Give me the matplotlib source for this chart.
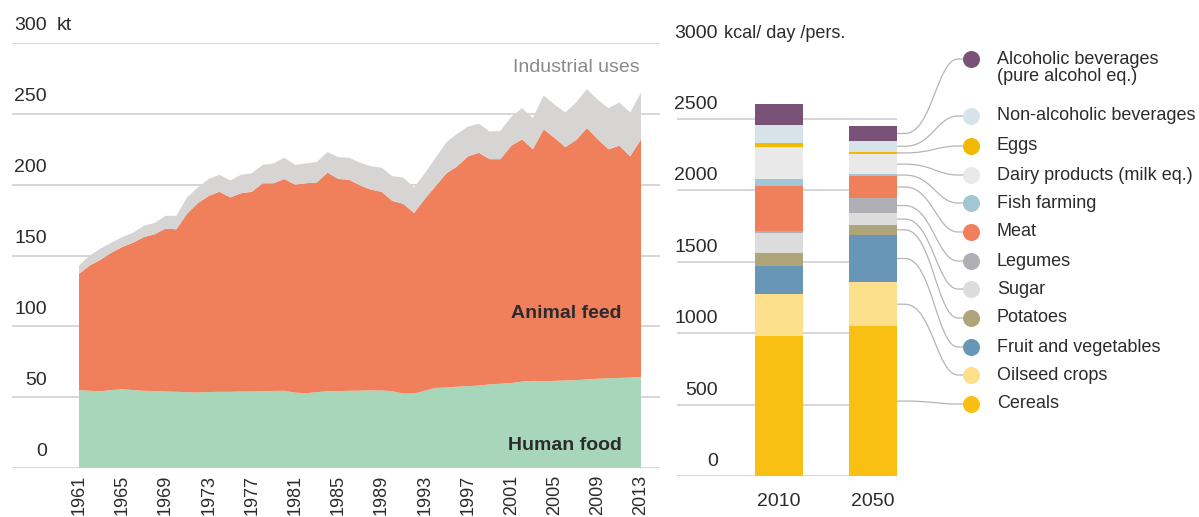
import matplotlib
matplotlib.use("Agg")
import matplotlib.pyplot as plt
from matplotlib.path import Path
from matplotlib.patches import PathPatch
from matplotlib.transforms import blended_transform_factory
import numpy as np

plt.rcParams['font.family'] = ['Liberation Sans', 'DejaVu Sans']
TXT = '#2b2b2b'

# ---- left chart data (kt) ----
years = list(range(1961, 2014))
human_food = [55, 54.5, 54.2, 55, 55.6, 55, 54.5, 54.3, 54, 53.8,
              53.5, 53.3, 53.6, 53.8, 53.8, 54, 54, 54.2, 54.4, 54.5,
              53.2, 52.8, 53.5, 54.2, 54.3, 54.5, 54.6, 54.8, 54.7, 54.2,
              52.5, 52.6, 54.5, 56.5, 56.8, 57.4, 57.8, 58.2, 59, 59.5,
              60, 61, 61.5, 61.3, 61.5, 61.8, 62, 62.5, 63, 63.3,
              63.6, 63.8, 64.3]
animal_feed = [82, 88.5, 92.8, 97, 100.4, 104, 108.5, 110.7, 115, 114.7,
               126, 133.7, 138.4, 141.2, 137.2, 140, 141, 146.8, 146.6, 149.5,
               146.8, 148.2, 148, 154.3, 149.7, 149, 144.9, 141.7, 140.3, 134.3,
               134, 127.4, 135.5, 142.5, 151.2, 155.6, 162.2, 164.3, 159, 158.5,
               167.5, 171, 163.5, 177.7, 171.5, 164.7, 169.5, 177.5, 169, 161.7,
               163.9, 156.2, 167.7]
industrial = [6, 7, 8, 7, 7, 7, 8, 8, 9, 9.5,
              11.5, 11, 12, 12, 12, 13, 13, 13, 14, 15,
              14, 14, 14.5, 14.5, 15.5, 15.5, 16, 16.5, 17, 17.5,
              18.5, 18, 18, 20, 22, 23, 21, 20.5, 19.5, 20,
              20.5, 22, 22, 24, 23.5, 24.5, 26.5, 27.5, 28, 29,
              30.5, 31, 33]
left_ticks = [0, 50, 100, 150, 200, 250, 300]

# ---- right chart data (kcal / day / person) ----
bar_labels = ['2010', '2050']
categories = ['Cereals', 'Oilseed crops', 'Fruit and vegetables', 'Potatoes',
              'Sugar', 'Legumes', 'Meat', 'Fish farming',
              'Dairy products (milk eq.)', 'Eggs', 'Non-alcoholic beverages',
              'Alcoholic beverages\n(pure alcohol eq.)']
kcal_2010 = [977, 300, 193, 93, 139, 10, 319, 46, 228, 28, 123, 149]
kcal_2050 = [1049, 306, 334, 67, 84, 105, 155, 12, 140, 18, 75, 104]
cat_colors = ['#f9bf12', '#fde08c', '#6896b6', '#aea57a', '#dcdcdc', '#b0b0b4',
              '#f0805c', '#a3c6d4', '#e8e9e8', '#f3b800', '#d6e4ea', '#7a5277']
right_ticks = [0, 500, 1000, 1500, 2000, 2500, 3000]

W, H = 1199, 517
fig = plt.figure(figsize=(W / 100, H / 100), dpi=100)

def box(l, r, top, bot):
    return [l / W, 1 - bot / H, (r - l) / W, (bot - top) / H]

# ================= left: stacked area =================
ax = fig.add_axes(box(12, 660, 43, 468))
ppy = (641 - 79) / 52.0
ax.set_xlim(1961 - (79 - 12) / ppy, 2013 + (660 - 641) / ppy)
ax.set_ylim(0, 300)
for v in left_ticks:
    ax.axhline(v, color='#d0d0d0', lw=1.2, zorder=0)
ax.stackplot(years, human_food, animal_feed, industrial,
             colors=['#a8d6bb', '#f0805c', '#d6d5d4'], lw=0, zorder=2)
for s in ax.spines.values():
    s.set_visible(False)
ax.set_yticks([])
ax.set_xticks(years[::4])
ax.set_xticklabels([str(y) for y in years[::4]], rotation=90, fontsize=13, color=TXT)
ax.tick_params(axis='x', length=0, pad=5)

trl = blended_transform_factory(ax.transAxes, ax.transData)
for v in left_ticks:
    ax.text(0.054, v + 6, str(v), transform=trl, ha='right', va='bottom',
            fontsize=14, color=TXT)
ax.text(0.069, 306, 'kt', transform=trl, ha='left', va='bottom', fontsize=14, color=TXT)

ax.text(2012.9, 283, 'Industrial uses', ha='right', va='center', fontsize=14,
        color='#8a8a8a', zorder=3)
ax.text(2011.2, 109, 'Animal feed', ha='right', va='center', fontsize=14,
        color=TXT, fontweight='bold', zorder=3)
ax.text(2011.2, 16, 'Human food', ha='right', va='center', fontsize=14,
        color=TXT, fontweight='bold', zorder=3)

# ================= right: stacked bars =================
ax2 = fig.add_axes(box(677, 897, 476 - 3000 * 0.1429, 476))
x = np.arange(len(bar_labels))
bw = 48 / 94
ax2.set_xlim(-(779 - 677) / 94, 1 + (897 - 873) / 94)
ax2.set_ylim(0, 3000)
for v in right_ticks[:-1]:
    ax2.axhline(v, color='#d0d0d0', lw=1.2, zorder=0)

data = np.array([kcal_2010, kcal_2050])
bottoms = np.zeros(2)
mids_2050 = []
for i, c in enumerate(categories):
    ax2.bar(x, data[:, i], bw, bottom=bottoms, color=cat_colors[i], lw=0, zorder=2)
    mids_2050.append(bottoms[1] + data[1, i] / 2)
    bottoms += data[:, i]

for s in ax2.spines.values():
    s.set_visible(False)
ax2.set_yticks([])
ax2.set_xticks(x)
ax2.set_xticklabels(bar_labels, fontsize=14, color=TXT)
ax2.tick_params(axis='x', length=0, pad=12)

tr2 = blended_transform_factory(ax2.transAxes, ax2.transData)
for v in right_ticks:
    ax2.text(0.186, v + 40, str(v), transform=tr2, ha='right', va='bottom',
             fontsize=14, color=TXT)
ax2.text(0.215, 3040, 'kcal/ day /pers.', transform=tr2, ha='left', va='bottom',
         fontsize=13, color=TXT)

# ================= legend with connectors =================
ov = fig.add_axes([0, 0, 1, 1], zorder=5)
ov.set_xlim(0, W)
ov.set_ylim(H, 0)
ov.axis('off')

label_y = [404, 375, 347, 318, 289, 261, 232, 203, 175, 146, 116, 68]
to_ov = ax2.transData + ov.transData.inverted()
for i, c in enumerate(categories):
    sx, sy = to_ov.transform((x[1] + bw / 2, mids_2050[i]))
    ty = label_y[i]
    my = ty if i < len(categories) - 1 else 59
    verts = [(sx, sy), (sx + 8, sy), (sx + 35, sy), (937, my), (958, my), (963, my)]
    codes = [Path.MOVETO, Path.LINETO, Path.CURVE4, Path.CURVE4, Path.CURVE4, Path.LINETO]
    ov.add_patch(PathPatch(Path(verts, codes), fc='none', ec='#b5b5b5', lw=0.9))
    ov.scatter([971], [my], s=150, color=cat_colors[i], marker='o', lw=0, zorder=6)
    ov.text(997, ty, c, ha='left', va='center',
            fontsize=13, color=TXT, linespacing=1.05)

fig.savefig('out.png', dpi=100)
